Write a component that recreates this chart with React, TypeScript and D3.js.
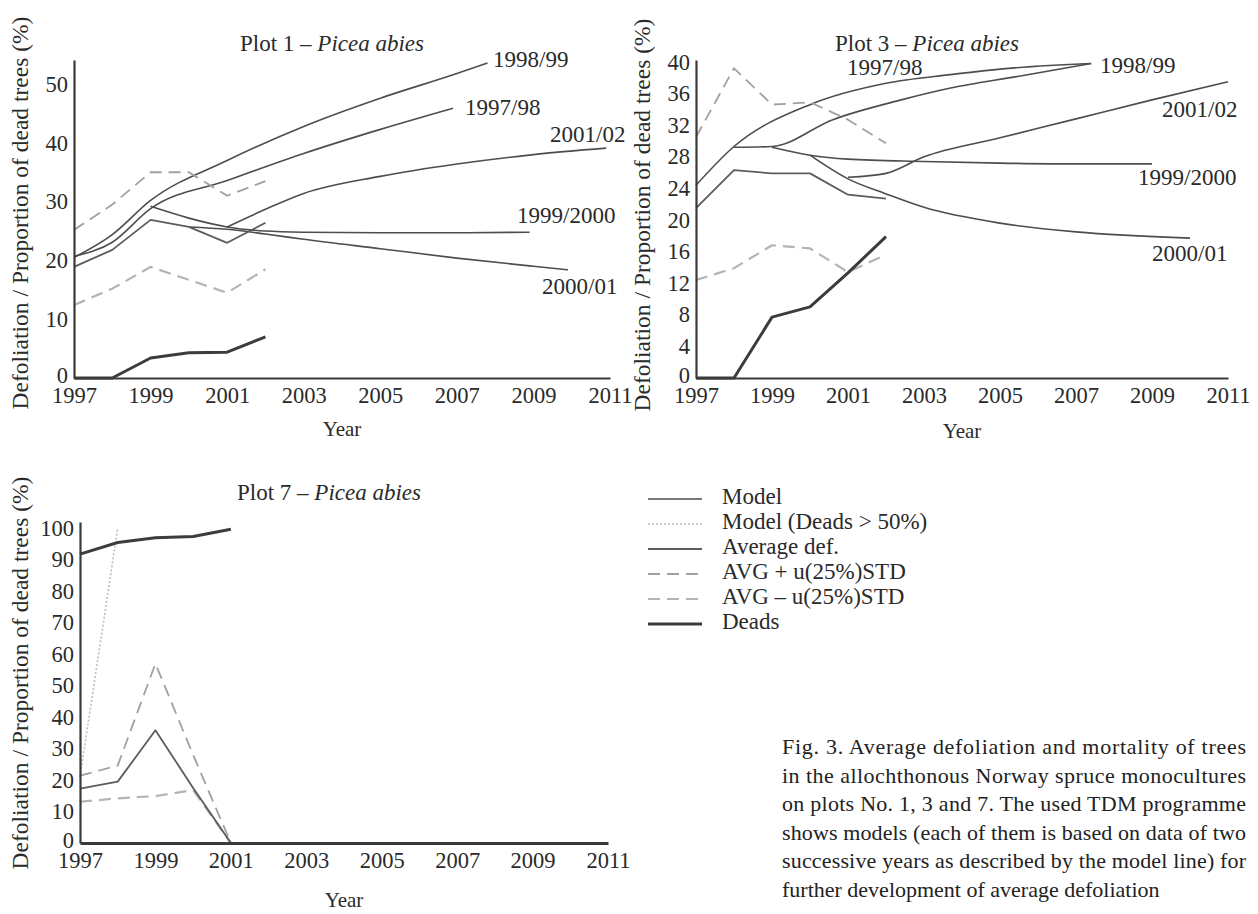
import React, { useEffect, useRef } from "react";
import * as d3 from "d3";

// observed years and x ticks
const years = [1997, 1998, 1999, 2000, 2001, 2002];
const years7 = [1997, 1998, 1999, 2000, 2001];
const xTicks = [1997, 1999, 2001, 2003, 2005, 2007, 2009, 2011];

// Plot 1 - Picea abies
const p1Avg = [18.9, 21.8, 26.9, 25.7, 23.0, 26.4];
const p1Plus = [25.2, 29.5, 35.0, 35.0, 31.0, 33.5];
const p1Minus = [12.4, 15.2, 18.9, 16.7, 14.5, 18.5];
const p1Deads = [0, 0, 3.4, 4.3, 4.4, 7.0];
const p1Models = [
  { label: "1998/99", years: [1997, 1998, 1999, 2001, 2003, 2005, 2007, 2007.8], values: [20.5, 24.4, 30.2, 37.0, 42.8, 47.6, 51.8, 53.6] },
  { label: "1997/98", years: [1997, 1998, 1999, 2001, 2003, 2005, 2006.9], values: [20.7, 23.1, 28.8, 33.6, 38.2, 42.3, 45.9] },
  { label: "2001/02", years: [2001, 2002, 2003, 2005, 2007, 2009, 2010.9], values: [25.7, 28.7, 31.4, 34.3, 36.4, 38.0, 39.1] },
  { label: "1999/2000", years: [1999, 2000, 2001, 2002, 2003, 2005, 2007, 2008.9], values: [29.2, 27.2, 25.7, 25.0, 24.8, 24.7, 24.7, 24.8] },
  { label: "2000/01", years: [2000, 2001, 2002, 2003, 2005, 2007, 2009, 2009.9], values: [25.7, 25.3, 24.5, 23.6, 22.0, 20.4, 19.0, 18.4] },
];

// Plot 3 - Picea abies
const p3Avg = [21.5, 26.3, 25.9, 25.9, 23.2, 22.7];
const p3Plus = [30.5, 39.2, 34.6, 34.9, 32.7, 29.7];
const p3Minus = [12.4, 13.9, 16.8, 16.4, 13.4, 15.6];
const p3Deads = [0, 0, 7.7, 9.0, 13.3, 17.9];
const p3Models = [
  { label: "1997/98", years: [1997, 1998, 2000, 2002, 2003.7, 2005, 2007.4], values: [24.4, 29.3, 34.6, 37.3, 38.4, 39.1, 39.8] },
  { label: "1998/99", years: [1998, 1999, 2000.6, 2002.4, 2003.7, 2005.5, 2007.4], values: [29.2, 29.3, 32.7, 35.2, 36.7, 38.2, 39.8] },
  { label: "2001/02", years: [2001, 2002, 2003, 2005, 2007, 2009, 2011], values: [25.4, 25.9, 28.0, 30.4, 32.8, 35.2, 37.5] },
  { label: "1999/2000", years: [1999, 2000, 2001, 2003, 2005, 2007, 2009], values: [29.2, 28.2, 27.7, 27.4, 27.2, 27.1, 27.1] },
  { label: "2000/01", years: [2000, 2001, 2002, 2003, 2005, 2007, 2010], values: [28.2, 25.2, 23.3, 21.6, 19.6, 18.5, 17.7] },
];

// Plot 7 - Picea abies
const p7Avg = [17.3, 19.5, 35.8, 17.5, 0];
const p7Plus = [21.4, 24.6, 57.0, 28.0, 0];
const p7Minus = [13.1, 14.2, 14.9, 16.8, 0];
const p7Deads = [91.8, 95.5, 97.0, 97.4, 99.7];
const p7ModelDead = { years: [1997, 1998], values: [21.0, 100] };
const p7Model = { years: [2001, 2011], values: [0, 0] };

const legendItems = ["Model", "Model (Deads > 50%)", "Average def.", "AVG + u(25%)STD", "AVG \u2013 u(25%)STD", "Deads"];
const caption = [
  "Fig. 3. Average defoliation and mortality of trees",
  "in the allochthonous Norway spruce monocultures",
  "on plots No. 1, 3 and 7. The used TDM programme",
  "shows models (each of them is based on data of two",
  "successive years as described by the model line) for",
  "further development of average defoliation",
];

const FONT = "'Liberation Serif', 'Times New Roman', serif";
const TXT = "#2a2a2a";

const styles = {
  model: { stroke: "#4d4d4d", width: 1.6, dash: null },
  modelDead: { stroke: "#bdbdbd", width: 1.6, dash: "2,2" },
  avg: { stroke: "#5c5c5c", width: 1.8, dash: null },
  plus: { stroke: "#a0a0a0", width: 1.8, dash: "12,7" },
  minus: { stroke: "#b4b4b4", width: 2.2, dash: "12,7" },
  deads: { stroke: "#3c3c3c", width: 3, dash: null },
};

const App = () => {
  const ref = useRef(null);

  useEffect(() => {
    const svg = d3.select(ref.current);
    svg.selectAll("*").remove();

    const drawLine = (g, x, y, xs, vs, st, curved) => {
      const pts = xs.map((yr, i) => [yr, vs[i]]);
      const line = d3
        .line()
        .x((d) => x(d[0]))
        .y((d) => y(d[1]))
        .curve(curved ? d3.curveMonotoneX : d3.curveLinear);
      g.append("path")
        .attr("d", line(pts))
        .attr("fill", "none")
        .attr("stroke", st.stroke)
        .attr("stroke-width", st.width)
        .attr("stroke-dasharray", st.dash)
        .attr("stroke-linejoin", "round");
    };

    const panel = (cfg) => {
      const x = d3.scaleLinear().domain([1997, 2011]).range([cfg.x0, cfg.x1]);
      const y = d3.scaleLinear().domain([0, cfg.yMax]).range([cfg.yBase, cfg.yTopPx]);
      const g = svg.append("g");

      // series
      cfg.models.forEach((m) => drawLine(g, x, y, m.years, m.values, styles.model, true));
      if (cfg.modelDead) drawLine(g, x, y, cfg.modelDead.years, cfg.modelDead.values, styles.modelDead, false);
      drawLine(g, x, y, cfg.yrs, cfg.minus, styles.minus, false);
      drawLine(g, x, y, cfg.yrs, cfg.plus, styles.plus, false);
      drawLine(g, x, y, cfg.yrs, cfg.avg, styles.avg, false);
      drawLine(g, x, y, cfg.yrs, cfg.deads, styles.deads, false);

      // axes
      const xa = g
        .append("g")
        .attr("transform", `translate(0,${cfg.yBase})`)
        .call(d3.axisBottom(x).tickValues(xTicks).tickSize(0).tickPadding(9).tickFormat(d3.format("d")));
      const ya = g
        .append("g")
        .attr("transform", `translate(${cfg.x0},0)`)
        .call(d3.axisLeft(y).tickValues(cfg.yTicks).tickSize(0).tickPadding(6).tickFormat(d3.format("d")));
      [xa, ya].forEach((a) => {
        a.attr("font-family", FONT).attr("font-size", 22.5);
        a.selectAll("text").attr("fill", TXT);
      });
      // the zero label sits just above the year labels
      ya.selectAll(".tick text").filter((d) => d === 0).attr("dy", "0.18em");
      xa.select(".domain").attr("stroke", "#3a3a3a").attr("stroke-width", cfg.xAxisW);
      ya.select(".domain").attr("stroke", "#3a3a3a").attr("stroke-width", 2.2);

      // title
      const t = g
        .append("text")
        .attr("x", cfg.title[0])
        .attr("y", cfg.title[1])
        .attr("font-family", FONT)
        .attr("font-size", 23)
        .attr("fill", TXT);
      t.append("tspan").text(`Plot ${cfg.name} \u2013 `);
      t.append("tspan").attr("font-style", "italic").text("Picea abies");

      // axis titles
      g.append("text")
        .attr("transform", `translate(${cfg.yLabel[0]},${cfg.yLabel[1]}) rotate(-90)`)
        .attr("text-anchor", "middle")
        .attr("dominant-baseline", "middle")
        .attr("font-family", FONT)
        .attr("font-size", 23.5)
        .attr("fill", TXT)
        .text("Defoliation / Proportion of dead trees (%)");
      g.append("text")
        .attr("x", (cfg.x0 + cfg.x1) / 2)
        .attr("y", cfg.yearY)
        .attr("text-anchor", "middle")
        .attr("dominant-baseline", "middle")
        .attr("font-family", FONT)
        .attr("font-size", 21)
        .attr("fill", TXT)
        .text("Year");

      // model labels
      (cfg.labels || []).forEach(([txt, lx, ly]) => {
        g.append("text")
          .attr("x", lx)
          .attr("y", ly)
          .attr("dominant-baseline", "middle")
          .attr("font-family", FONT)
          .attr("font-size", 23)
          .attr("fill", TXT)
          .text(txt);
      });
    };

    panel({
      name: 1, x0: 74, x1: 610, yBase: 378, yTopPx: 60, yMax: 54.1,
      yTicks: [0, 10, 20, 30, 40, 50], xAxisW: 2.2,
      yrs: years, avg: p1Avg, plus: p1Plus, minus: p1Minus, deads: p1Deads, models: p1Models,
      title: [240, 51], yLabel: [23, 213], yearY: 431,
      labels: [["1998/99", 493, 62], ["1997/98", 465, 110], ["2001/02", 550, 137], ["1999/2000", 517, 218], ["2000/01", 542, 289]],
    });

    panel({
      name: 3, x0: 696, x1: 1228, yBase: 378, yTopPx: 60, yMax: 40.25,
      yTicks: [0, 4, 8, 12, 16, 20, 24, 28, 32, 36, 40], xAxisW: 2.2,
      yrs: years, avg: p3Avg, plus: p3Plus, minus: p3Minus, deads: p3Deads, models: p3Models,
      title: [835, 51], yLabel: [645, 215], yearY: 433,
      labels: [["1997/98", 847, 70], ["1998/99", 1100, 68], ["2001/02", 1162, 112], ["1999/2000", 1138, 180], ["2000/01", 1152, 256]],
    });

    panel({
      name: 7, x0: 80, x1: 608, yBase: 843, yTopPx: 522, yMax: 102,
      yTicks: [0, 10, 20, 30, 40, 50, 60, 70, 80, 90, 100], xAxisW: 3.2,
      yrs: years7, avg: p7Avg, plus: p7Plus, minus: p7Minus, deads: p7Deads,
      models: [p7Model], modelDead: p7ModelDead,
      title: [237, 500], yLabel: [23, 673], yearY: 902,
    });

    // legend
    const legendStyles = [styles.model, styles.modelDead, styles.avg, styles.plus, styles.minus, styles.deads];
    const lg = svg.append("g");
    legendItems.forEach((txt, i) => {
      const ly = 499 + i * 25;
      const st = legendStyles[i];
      lg.append("line")
        .attr("x1", 648).attr("x2", 702).attr("y1", ly).attr("y2", ly)
        .attr("stroke", st.stroke).attr("stroke-width", st.width).attr("stroke-dasharray", st.dash);
      lg.append("text")
        .attr("x", 722).attr("y", ly)
        .attr("dominant-baseline", "middle")
        .attr("font-family", FONT).attr("font-size", 23).attr("fill", TXT)
        .text(txt);
    });

    // caption
    const cg = svg.append("g");
    caption.forEach((line, i) => {
      const t = cg.append("text")
        .attr("x", 782)
        .attr("y", 754 + i * 28.6)
        .attr("font-family", FONT)
        .attr("font-size", 22)
        .attr("fill", "#222")
        .text(line);
      if (i < caption.length - 1) t.attr("textLength", 464).attr("lengthAdjust", "spacing");
    });
  }, []);

  return (
    <svg
      ref={ref}
      width={1258}
      height={914}
      style={{ position: "absolute", left: 0, top: 0, background: "#fff" }}
    />
  );
};

export default App;
